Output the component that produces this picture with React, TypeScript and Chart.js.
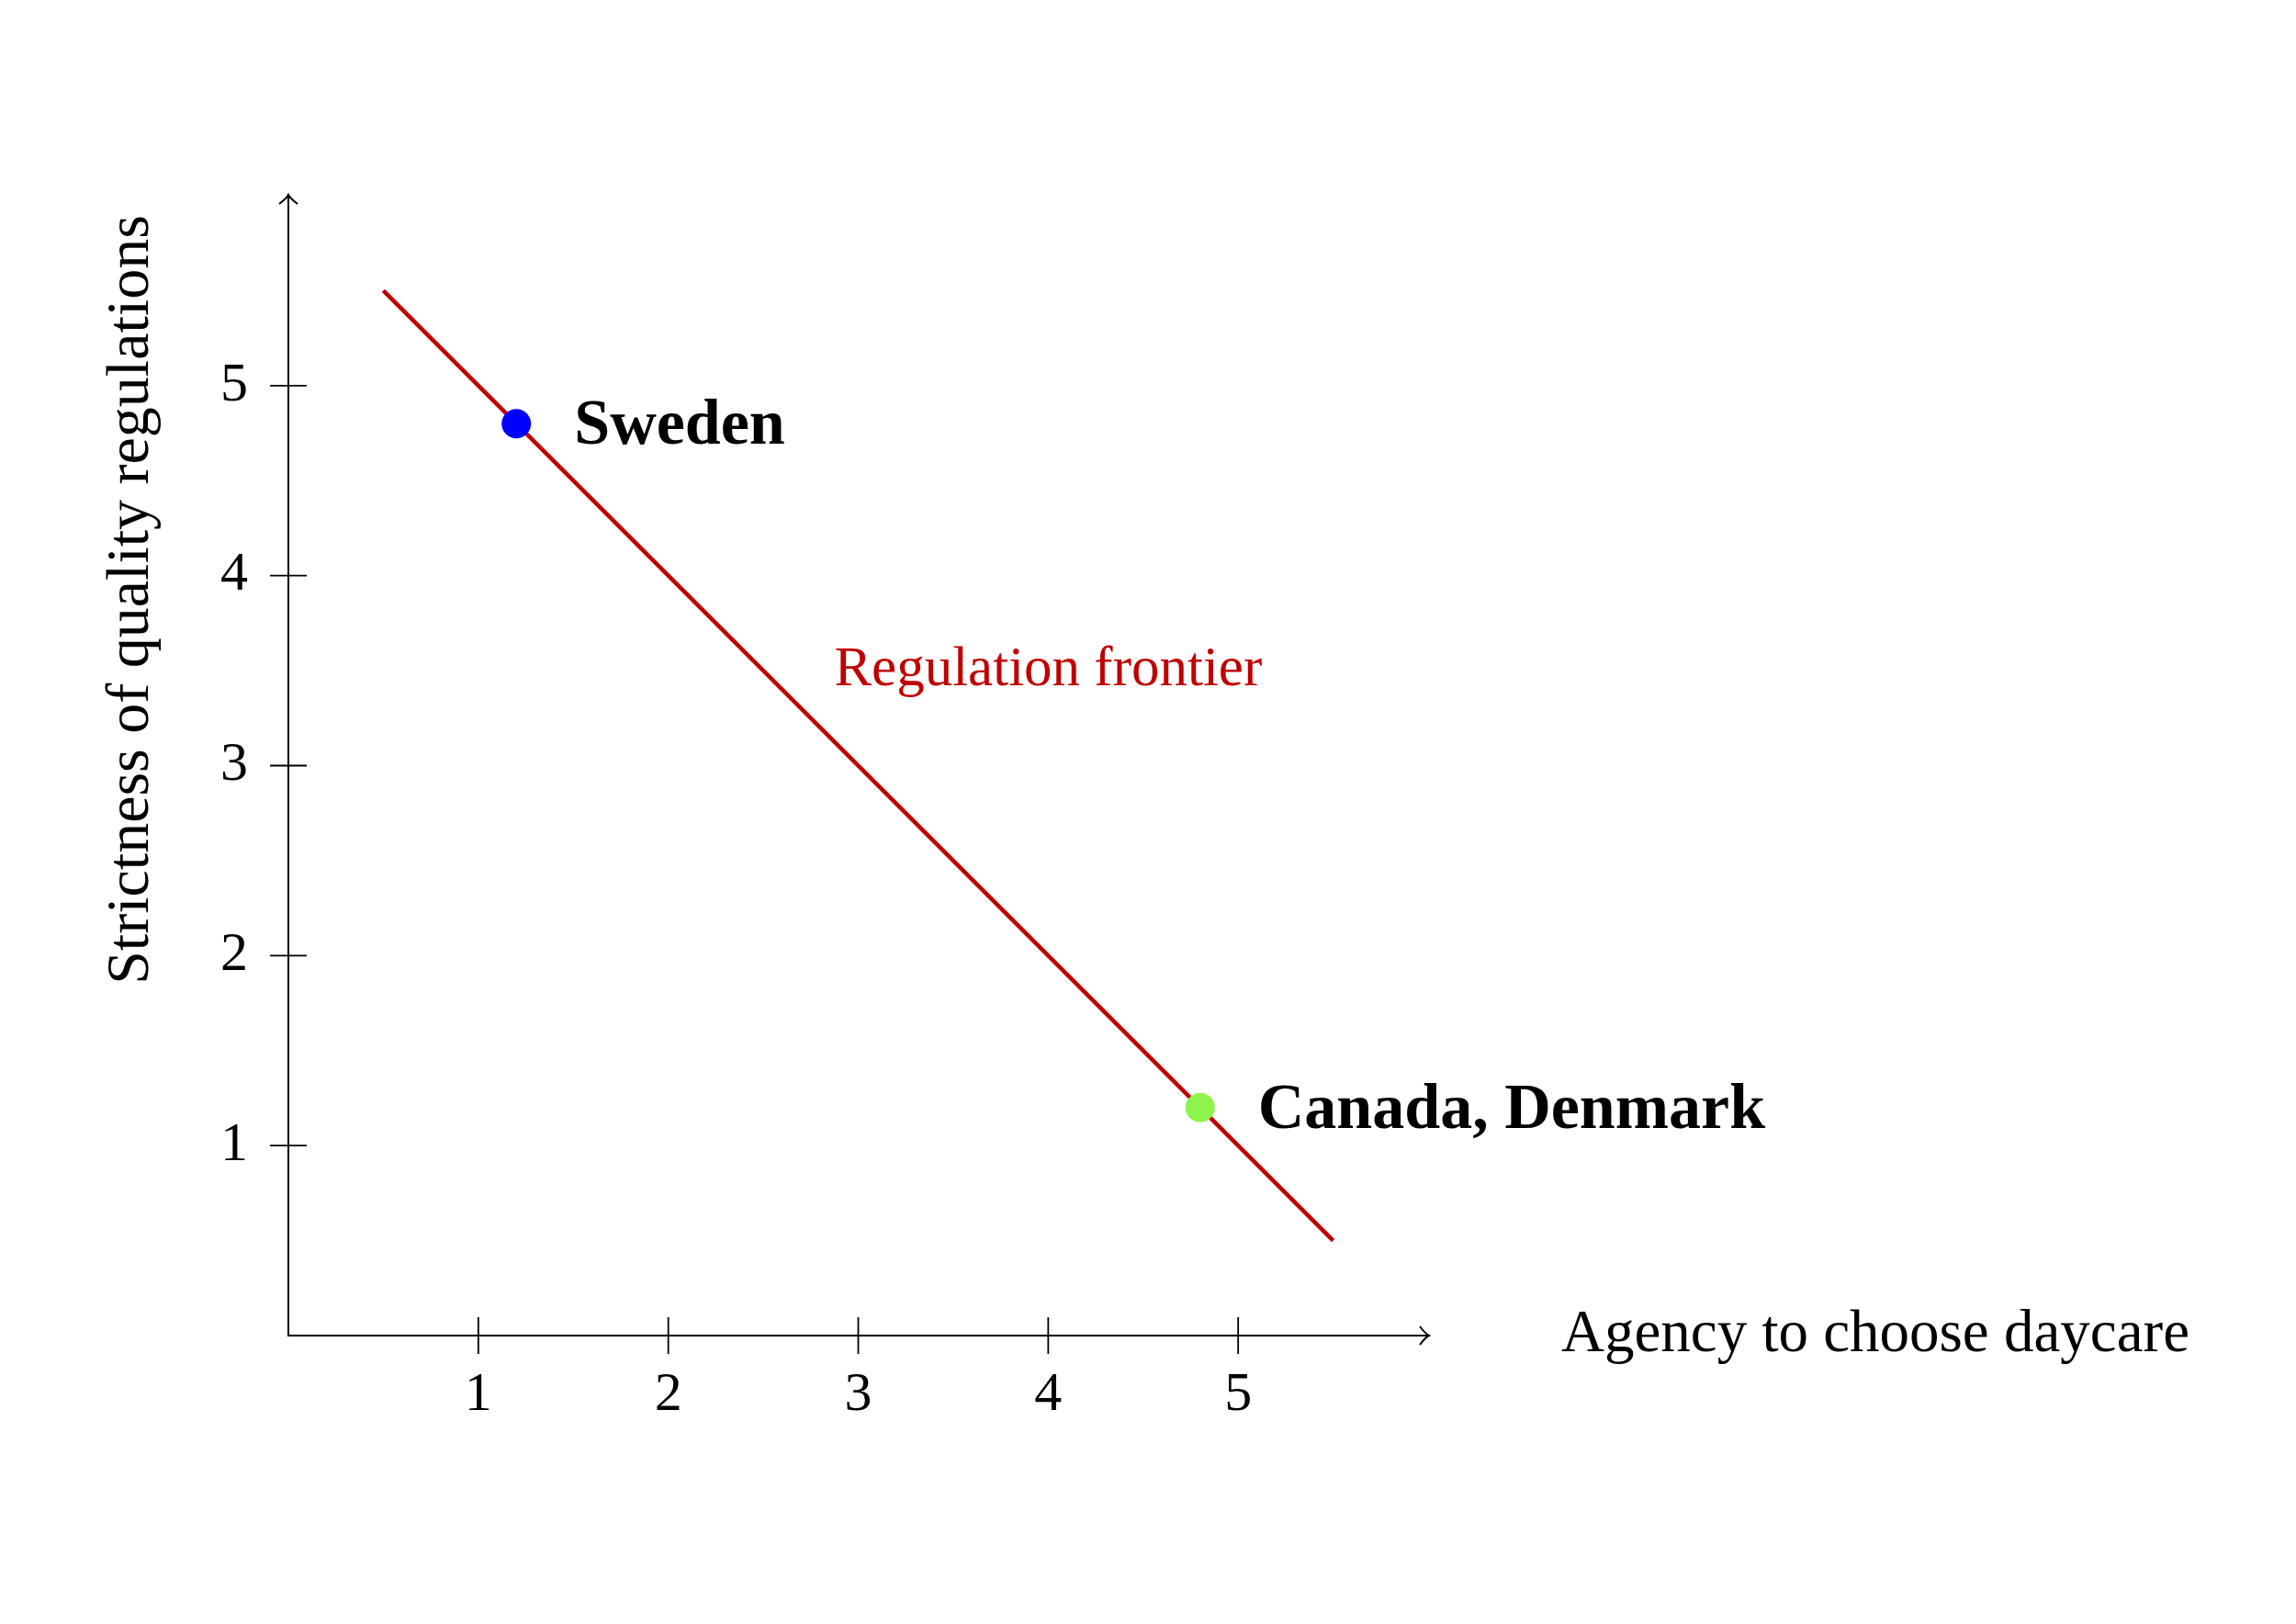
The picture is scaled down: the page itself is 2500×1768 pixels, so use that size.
import { useEffect, useRef } from 'react';
import { Chart, registerables } from 'chart.js';

Chart.register(...registerables);

// values
const frontierX = [0.5, 5.5];
const frontierY = [5.5, 0.5];
const countries = ['Sweden', 'Canada, Denmark'];
const countryX = [1.2, 4.8];
const countryY = [4.8, 1.2];
const countryColors = ['#0000ff', '#8ef34a'];
const tickValues = [1, 2, 3, 4, 5];
const axisMax = 6;

const serif = '"Liberation Serif", "DejaVu Serif", serif';

const decorations = {
  id: 'decorations',
  afterDraw(chart: any) {
    const ctx = chart.ctx;
    const xs = chart.scales.x;
    const ys = chart.scales.y;
    const x0 = xs.getPixelForValue(0);
    const y0 = ys.getPixelForValue(0);
    ctx.save();

    // tick marks crossing the axes
    ctx.strokeStyle = '#000';
    ctx.lineWidth = 1.8;
    tickValues.forEach((v) => {
      const px = xs.getPixelForValue(v);
      ctx.beginPath();
      ctx.moveTo(px, y0 - 20);
      ctx.lineTo(px, y0 + 20);
      ctx.stroke();
      const py = ys.getPixelForValue(v);
      ctx.beginPath();
      ctx.moveTo(x0 - 20, py);
      ctx.lineTo(x0 + 20, py);
      ctx.stroke();
    });

    // arrow heads
    const xe = xs.getPixelForValue(axisMax);
    const ye = ys.getPixelForValue(axisMax);
    ctx.lineWidth = 2;
    ctx.beginPath();
    ctx.moveTo(xe - 9, y0 - 10);
    ctx.quadraticCurveTo(xe - 3, y0 - 2, xe + 1, y0);
    ctx.quadraticCurveTo(xe - 3, y0 + 2, xe - 9, y0 + 10);
    ctx.stroke();
    ctx.beginPath();
    ctx.moveTo(x0 - 10, ye + 9);
    ctx.quadraticCurveTo(x0 - 2, ye + 3, x0, ye - 1);
    ctx.quadraticCurveTo(x0 + 2, ye + 3, x0 + 10, ye + 9);
    ctx.stroke();

    // axis titles
    ctx.fillStyle = '#000';
    ctx.font = `65px ${serif}`;
    ctx.textAlign = 'left';
    ctx.textBaseline = 'alphabetic';
    ctx.fillText('Agency to choose daycare', xe + 145, y0 + 17);

    ctx.save();
    ctx.translate(161, 653);
    ctx.rotate(-Math.PI / 2);
    ctx.textAlign = 'center';
    ctx.font = `66px ${serif}`;
    ctx.fillText('Strictness of quality regulations', 0, 0);
    ctx.restore();

    // country labels next to their points
    ctx.font = `bold 70px ${serif}`;
    ctx.textAlign = 'left';
    ctx.textBaseline = 'middle';
    countries.forEach((name, i) => {
      const pt = chart.getDatasetMeta(i).data[0];
      ctx.fillText(name, pt.x + 63, pt.y + 4);
    });

    // frontier label
    ctx.fillStyle = '#c00000';
    ctx.font = `61px ${serif}`;
    ctx.textAlign = 'center';
    ctx.fillText('Regulation frontier', xs.getPixelForValue(4), ys.getPixelForValue(3.5));

    ctx.restore();
  },
};

const App = () => {
  const canvasRef = useRef<HTMLCanvasElement>(null);

  useEffect(() => {
    if (!canvasRef.current) return;

    const pointSets = countries.map((name, i) => ({
      label: name,
      data: [{ x: countryX[i], y: countryY[i] }],
      backgroundColor: countryColors[i],
      borderWidth: 0,
      pointRadius: 16,
      showLine: false,
    }));

    const chart = new Chart(canvasRef.current, {
      type: 'scatter',
      data: {
        datasets: [
          ...pointSets,
          {
            label: 'Regulation frontier',
            data: frontierX.map((x, i) => ({ x, y: frontierY[i] })),
            borderColor: '#c00000',
            borderWidth: 4.5,
            pointRadius: 0,
            showLine: true,
          },
        ],
      },
      options: {
        animation: false,
        responsive: false,
        devicePixelRatio: 1,
        layout: { padding: { left: 194, right: 945, top: 213, bottom: 194 } },
        plugins: {
          legend: { display: false },
          tooltip: { enabled: false },
        },
        scales: {
          x: {
            type: 'linear',
            min: 0,
            max: axisMax,
            grid: { display: false },
            border: { display: true, color: '#000', width: 2 },
            afterBuildTicks: (s: any) => {
              s.ticks = tickValues.map((value) => ({ value }));
            },
            afterFit: (s: any) => {
              s.height = 120;
            },
            ticks: {
              color: '#000',
              padding: 21,
              font: { family: serif, size: 60 },
            },
          },
          y: {
            type: 'linear',
            min: 0,
            max: axisMax,
            grid: { display: false },
            border: { display: true, color: '#000', width: 2 },
            afterBuildTicks: (s: any) => {
              s.ticks = tickValues.map((value) => ({ value }));
            },
            afterFit: (s: any) => {
              s.width = 120;
            },
            ticks: {
              color: '#000',
              padding: 36,
              font: { family: serif, size: 60 },
            },
          },
        },
      },
      plugins: [decorations],
    });

    return () => {
      chart.destroy();
    };
  }, []);

  return (
    <div style={{ position: 'absolute', left: 0, top: 0, width: 2500, height: 1768, background: '#fff' }}>
      <canvas ref={canvasRef} width={2500} height={1768}></canvas>
    </div>
  );
};

export default App;
